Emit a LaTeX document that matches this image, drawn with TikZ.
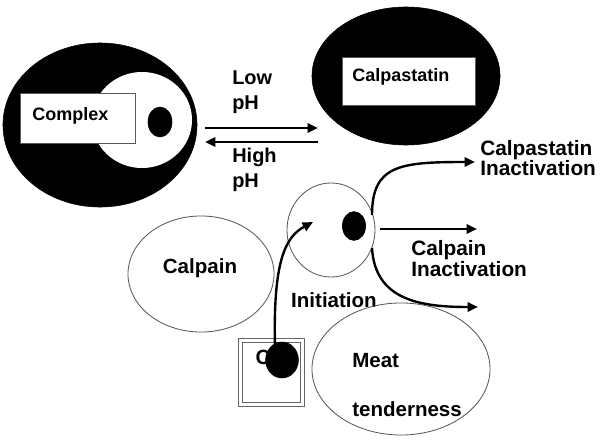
\documentclass[tikz,border=0pt]{standalone}
\usepackage{fontspec}
\setmainfont{Liberation Sans}
\usetikzlibrary{arrows.meta,shapes.geometric}
\tikzset{
  blob/.style={ellipse, fill=black, draw=black, inner sep=0pt},
  hole/.style={ellipse, fill=white, inner sep=0pt},
  ring/.style={ellipse, draw=black!65, line width=0.6pt, inner sep=0pt},
  tag/.style={draw=black!65, fill=white, line width=0.6pt, inner sep=0pt},
  txt/.style={font=\bfseries\fontsize{14.6}{15}\selectfont, inner sep=0pt, align=left},
  boxtxt/.style={font=\bfseries\fontsize{12.8}{13}\selectfont, inner sep=0pt},
  flow/.style={draw=black, line width=1.7pt, -{Triangle[length=2.6mm,width=2.3mm]}},
}
\begin{document}
\begin{tikzpicture}[x=0.025cm, y=-0.025cm]
  \useasboundingbox (0,0) rectangle (605,440);
  % complex (left)
  \node[blob, minimum width=4.85cm, minimum height=4.1cm] (cplx) at (100,125) {};
  \node[hole, minimum width=2.5cm, minimum height=2.4cm] (cplxhole) at (142,120) {};
  \node[blob, minimum width=0.6cm, minimum height=0.75cm] (cplxdot) at (160,122) {};
  \node[tag, minimum width=2.875cm, minimum height=1.25cm] (cplxbox) at (77.5,118) {};
  \node[boxtxt, anchor=base west] (cplxlbl) at (32,120) {Complex};
  % calpastatin (right)
  \node[blob, minimum width=4.7cm, minimum height=3.45cm] (cast) at (406,76) {};
  \node[tag, minimum width=3.325cm, minimum height=1.2cm] (castbox) at (408.5,81) {};
  \node[boxtxt, anchor=base west] (castlbl) at (352,82) {Calpastatin};
  % pH arrows
  \coordinate (lowa) at (205,128);
  \coordinate (lowb) at (318,128);
  \coordinate (higha) at (318,142);
  \coordinate (highb) at (205,142);
  \draw[flow] (lowa) -- (lowb);
  \draw[flow] (higha) -- (highb);
  \node[txt, anchor=west, font=\bfseries\fontsize{14.2}{17.8}\selectfont] (lowlbl) at (232,92) {Low\\pH};
  \node[txt, anchor=west, font=\bfseries\fontsize{14.2}{17.8}\selectfont] (highlbl) at (232,170) {High\\pH};
  % calpain, initiation
  \node[ring, minimum width=3.65cm, minimum height=2.9cm] (calp) at (201,274) {};
  \node[txt] (calplbl) at (200,268) {Calpain};
  \node[ring, minimum width=2.2cm, minimum height=2.35cm] (init) at (331,230) {};
  \node[blob, minimum width=0.58cm, minimum height=0.72cm] (initdot) at (354,226) {};
  \node[txt] (initlbl) at (334,300) {Initiation};
  % meat tenderness
  \node[ring, minimum width=4.45cm, minimum height=3.3cm] (meat) at (401,369) {};
  \node[txt, anchor=west, font=\bfseries\fontsize{14.6}{35.4}\selectfont] (meatlbl) at (352,385) {Meat\\tenderness};
  % small boxed calpain
  \node[draw=black!60, double, double distance=0.07cm, line width=0.45pt,
    minimum width=1.55cm, minimum height=1.6cm, inner sep=0pt] (sq) at (271.5,372.5) {};
  \node[txt] (sqlbl) at (263,357) {C};
  \node[blob, minimum width=0.82cm, minimum height=0.9cm] (sqdot) at (282,360) {};
  % arrows out of the initiation circle
  \coordinate (up0) at (275,346);
  \coordinate (up1) at (313,222);
  \draw[flow] (up0) .. controls (273,262) and (285,237) .. (up1);
  \coordinate (ra) at (372,215);
  \coordinate (rb) at (475,162);
  \draw[flow] (ra) .. controls (372,165) and (400,162) .. (rb);
  \coordinate (ma) at (380,229);
  \coordinate (mb) at (477,229);
  \draw[flow] (ma) -- (mb);
  \coordinate (la) at (372,248);
  \coordinate (lb) at (478,307);
  \draw[flow] (la) .. controls (375,300) and (420,307) .. (lb);
  \node[txt, anchor=west, font=\bfseries\fontsize{14.8}{12.8}\selectfont] (castin) at (480,158) {Calpastatin\\Inactivation};
  \node[txt, anchor=west, font=\bfseries\fontsize{14.8}{12.8}\selectfont] (calpin) at (411,258.5) {Calpain\\Inactivation};
\end{tikzpicture}
\end{document}
